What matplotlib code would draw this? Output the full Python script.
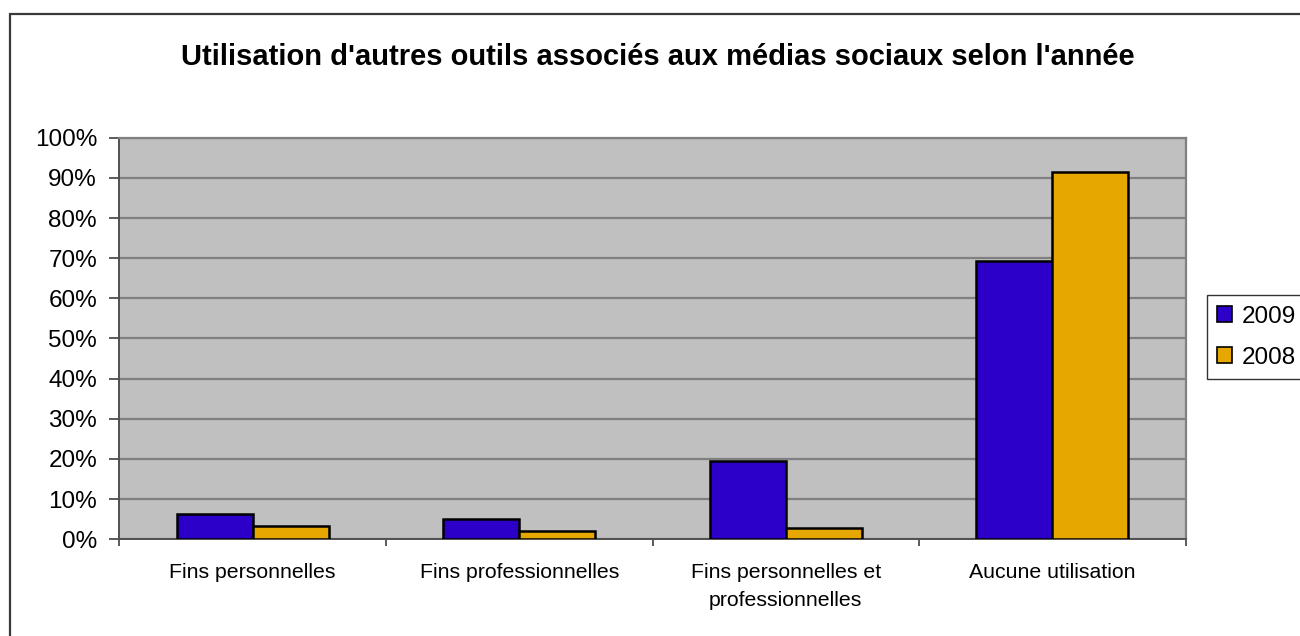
import matplotlib
matplotlib.use("Agg")
import matplotlib.pyplot as plt
import numpy as np
from matplotlib.patches import Rectangle

categories = ["Fins personnelles", "Fins professionnelles",
              "Fins personnelles et\nprofessionnelles", "Aucune utilisation"]
series_names = ["2009", "2008"]
values_2009 = [6.2, 5.0, 19.4, 69.2]
values_2008 = [3.3, 2.0, 2.9, 91.5]
y_ticks = [0, 10, 20, 30, 40, 50, 60, 70, 80, 90, 100]
title = "Utilisation d'autres outils associés aux médias sociaux selon l'année"

colors = ["#2C00C8", "#E6A800"]

plt.rcParams['font.family'] = ['Liberation Sans', 'DejaVu Sans']

W, H = 1300, 636
fig = plt.figure(figsize=(W / 100, H / 100), dpi=100)
fig.patch.set_facecolor("white")

# chart border (extends beyond right/bottom edge)
fig.patches.append(Rectangle((10 / W, -0.1), 1.2, 1 - 13.5 / H + 0.1,
                             transform=fig.transFigure, fill=False,
                             edgecolor="#3A3A3A", linewidth=1.6, zorder=0))

left, right, top, bottom = 119.3, 1185.7, 137.7, 539.3
ax = fig.add_axes([left / W, 1 - bottom / H, (right - left) / W, (bottom - top) / H])
ax.set_facecolor("#C0C0C0")

x = np.arange(len(categories))
bw = 0.285
ax.bar(x - bw / 2, values_2009, bw, color=colors[0], edgecolor="black",
       linewidth=1.8, label=series_names[0], zorder=3)
ax.bar(x + bw / 2, values_2008, bw, color=colors[1], edgecolor="black",
       linewidth=1.8, label=series_names[1], zorder=3)

ax.set_xlim(-0.5, len(categories) - 0.5)
ax.set_ylim(0, 100)
ax.set_yticks(y_ticks)
ax.set_yticklabels([f"{t}%" for t in y_ticks], fontsize=17.5)
ax.yaxis.grid(True, color="#808080", linewidth=1.6, zorder=1)
ax.set_axisbelow(True)

ax.set_xticks(x)
ax.set_xticklabels(categories, fontsize=15.3, linespacing=1.6, va="top")
ax.set_xticks(np.arange(-0.5, len(categories)), minor=True)
ax.tick_params(axis="x", which="major", length=0, pad=17)
ax.tick_params(axis="x", which="minor", length=5, width=1.2, color="#404040", direction="out")
ax.tick_params(axis="y", length=7, width=1.2, color="#404040", pad=9, direction="out")

for s in ["top", "right"]:
    ax.spines[s].set_color("#808080")
    ax.spines[s].set_linewidth(1.6)
for s in ["left", "bottom"]:
    ax.spines[s].set_color("#505050")
    ax.spines[s].set_linewidth(1.4)

fig.text(658 / W, 1 - 57 / H, title, ha="center", va="center",
         fontsize=21, fontweight="bold")

leg = fig.legend(loc="upper left", bbox_to_anchor=(1207 / W, 1 - 295.5 / H),
                 fontsize=17.5, frameon=True, fancybox=False, edgecolor="black",
                 handlelength=0.62, handleheight=0.62, handletextpad=0.4,
                 borderpad=0.42, labelspacing=0.78, borderaxespad=0)
leg.get_frame().set_linewidth(1.0)
for h in leg.legend_handles:
    h.set_linewidth(1.2)

fig.savefig("out.png", dpi=100)
